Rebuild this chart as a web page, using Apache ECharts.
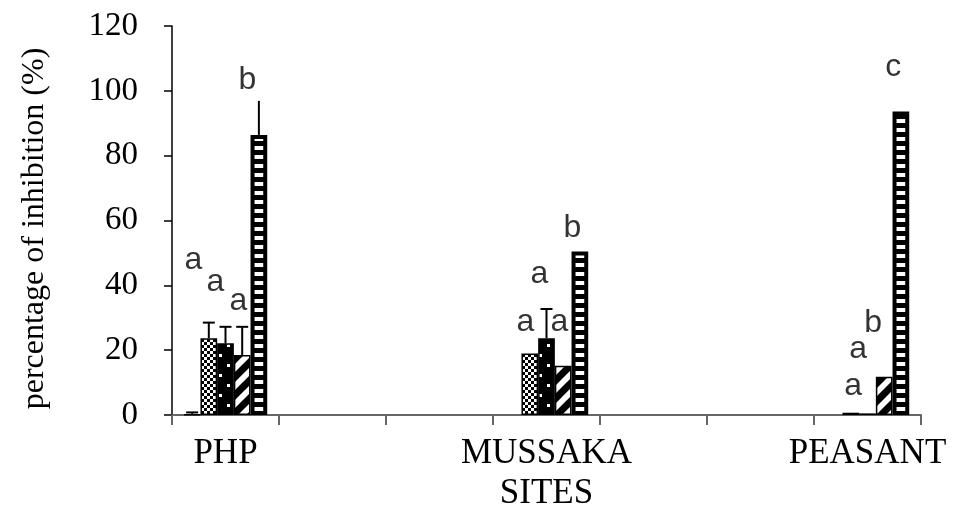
<!DOCTYPE html>
<html>
<head>
<meta charset="utf-8">
<script src="https://cdn.jsdelivr.net/npm/echarts@6/dist/echarts.min.js"></script>
<style>html,body{margin:0;padding:0;background:#fff;}#chart{width:954px;height:509px;}</style>
</head>
<body>
<div id="chart"></div>
<script>
// ---- data ----
const categories = ['PHP', '', '', 'MUSSAKA', '', '', 'PEASANT'];
const siteIndex = [0, 3, 6];
const yTicks = [0, 20, 40, 60, 80, 100, 120];

const series1 = [0.1, 0, 0];
const series2 = [23.7, 19.0, 0.7];
const series3 = [22.1, 23.7, 0.5];
const series4 = [18.5, 15.2, 11.8];
const series5 = [86.4, 50.4, 93.6];

const err1 = [0.7, 0, 0];
const err2 = [4.8, 0, 0];
const err3 = [5.1, 9.0, 0];
const err4 = [8.7, 0, 0];
const err5 = [10.5, 0, 0];

// significance letters: text, site category, shift within category, y value
const letterText  = ['a', 'a', 'a', 'b',   'a', 'a', 'a', 'b',   'a', 'a', 'b', 'c'];
const letterCat   = [0, 0, 0, 0,   3, 3, 3, 3,   6, 6, 6, 6];
const letterShift = [-0.30, -0.095, 0.12, 0.204,   -0.198, -0.067, 0.120, 0.241,   -0.134, -0.087, 0.053, 0.240];
const letterY     = [47.8, 41.0, 35.2, 103.2,   28.7, 43.5, 28.7, 57.7,   8.9, 20.4, 28.4, 107.3];

// ---- patterns ----
function tile(w, h, draw) {
  const c = document.createElement('canvas');
  c.width = w; c.height = h;
  const ctx = c.getContext('2d');
  draw(ctx, w, h);
  return { image: c, repeat: 'repeat' };
}
const patSolid = '#000';
const patChecker = tile(6, 6, (ctx) => {
  ctx.fillStyle = '#fff'; ctx.fillRect(0, 0, 6, 6);
  ctx.fillStyle = '#000'; ctx.fillRect(0, 0, 3, 3); ctx.fillRect(3, 3, 3, 3);
});
const patDots = tile(16, 20, (ctx) => {
  ctx.fillStyle = '#000'; ctx.fillRect(0, 0, 16, 20);
  ctx.fillStyle = '#fff'; ctx.fillRect(3, 4, 3, 3); ctx.fillRect(11, 14, 3, 3);
});
const patDiag = tile(18, 18, (ctx) => {
  ctx.fillStyle = '#fff'; ctx.fillRect(0, 0, 18, 18);
  ctx.strokeStyle = '#000'; ctx.lineWidth = 7;
  for (let k = 0; k <= 2; k++) {
    ctx.beginPath(); ctx.moveTo(-18, k * 18 + 18); ctx.lineTo(k * 18 + 18, -18); ctx.stroke();
  }
});
const patHoriz = tile(8, 9, (ctx) => {
  ctx.fillStyle = '#000'; ctx.fillRect(0, 0, 8, 9);
  ctx.fillStyle = '#fff'; ctx.fillRect(0, 2, 8, 4);
});

// ---- build ----
const gapPct = 22;
const seriesVals = [series1, series2, series3, series4, series5];
const seriesErr = [err1, err2, err3, err4, err5];
const fills = [patSolid, patChecker, patDots, patDiag, patHoriz];
const borders = [1.5, 1.5, 1.5, 1.5, 4];

function fullRow(vals) {
  const row = categories.map(() => null);
  siteIndex.forEach((ci, i) => {
    row[ci] = vals[i] === 0 ? { value: 0, itemStyle: { borderWidth: 0 } } : vals[i];
  });
  return row;
}

const barSeries = seriesVals.map((vals, k) => ({
  type: 'bar',
  name: 's' + (k + 1),
  data: fullRow(vals),
  barGap: '0%',
  barCategoryGap: gapPct + '%',
  itemStyle: { color: fills[k], borderColor: '#000', borderWidth: borders[k] },
  emphasis: { disabled: true },
  silent: true,
  z: 2
}));

const errData = [];
seriesVals.forEach((vals, k) => {
  vals.forEach((v, i) => {
    if (seriesErr[k][i] > 0) errData.push([siteIndex[i], v, seriesErr[k][i], k, k === 4 ? 0 : 1]);
  });
});

const errSeries = {
  type: 'custom',
  data: errData,
  z: 5,
  silent: true,
  renderItem: function (params, api) {
    const ci = api.value(0), v = api.value(1), e = api.value(2), k = api.value(3), cap = api.value(4);
    const base = api.coord([ci, v]);
    const top = api.coord([ci, v + e]);
    const band = api.size([1, 0])[0];
    const bw = band * (1 - gapPct / 100) / 5;
    const x = base[0] + (k - 2) * bw;
    const children = [{
      type: 'line', shape: { x1: x, y1: base[1], x2: x, y2: top[1] },
      style: { stroke: '#000', lineWidth: 2 }
    }];
    if (cap) children.push({
      type: 'line', shape: { x1: x - 6, y1: top[1], x2: x + 6, y2: top[1] },
      style: { stroke: '#000', lineWidth: 2 }
    });
    return { type: 'group', children: children };
  }
};

const letterData = letterText.map((t, i) => ({
  value: [letterCat[i] + letterShift[i], letterY[i]],
  label: { formatter: t }
}));

const letterSeries = {
  type: 'scatter',
  xAxisIndex: 1,
  yAxisIndex: 0,
  data: letterData,
  symbolSize: 1,
  itemStyle: { color: 'transparent' },
  silent: true,
  z: 6,
  label: {
    show: true, position: 'inside',
    fontFamily: 'Liberation Sans', fontSize: 32, color: '#000'
  }
};

const option = {
  animation: false,
  backgroundColor: '#fff',
  grid: { left: 172, right: 33, top: 26, bottom: 94, containLabel: false, outerBoundsMode: 'none' },
  xAxis: [{
    type: 'category',
    data: categories,
    boundaryGap: true,
    name: 'SITES',
    nameLocation: 'middle',
    nameGap: 58,
    nameTextStyle: { fontFamily: 'Liberation Serif', fontSize: 35, color: '#000' },
    axisLine: { onZero: false, lineStyle: { color: '#666', width: 2 } },
    axisTick: { show: true, interval: 0, length: 10, lineStyle: { color: '#666', width: 2 } },
    axisLabel: { interval: 0, margin: 21, fontFamily: 'Liberation Serif', fontSize: 35, color: '#000' },
    splitLine: { show: false }
  }, {
    type: 'value', min: -0.5, max: 6.5, show: false
  }],
  yAxis: {
    type: 'value',
    min: yTicks[0], max: yTicks[yTicks.length - 1], interval: yTicks[1] - yTicks[0],
    name: 'percentage of inhibition (%)',
    nameLocation: 'middle',
    nameGap: 121,
    nameTextStyle: { fontFamily: 'Liberation Serif', fontSize: 32, color: '#000', padding: [0, 16, 0, 0] },
    axisLine: { show: true, onZero: false, lineStyle: { color: '#000', width: 1.5 } },
    axisTick: { show: true, length: 8, lineStyle: { color: '#000', width: 1.5 } },
    axisLabel: { margin: 34, fontFamily: 'Liberation Serif', fontSize: 33, color: '#000' },
    splitLine: { show: false }
  },
  series: barSeries.concat([errSeries, letterSeries])
};

const chart = echarts.init(document.getElementById('chart'), null, { renderer: 'canvas' });
chart.setOption(option);
</script>
</body>
</html>
